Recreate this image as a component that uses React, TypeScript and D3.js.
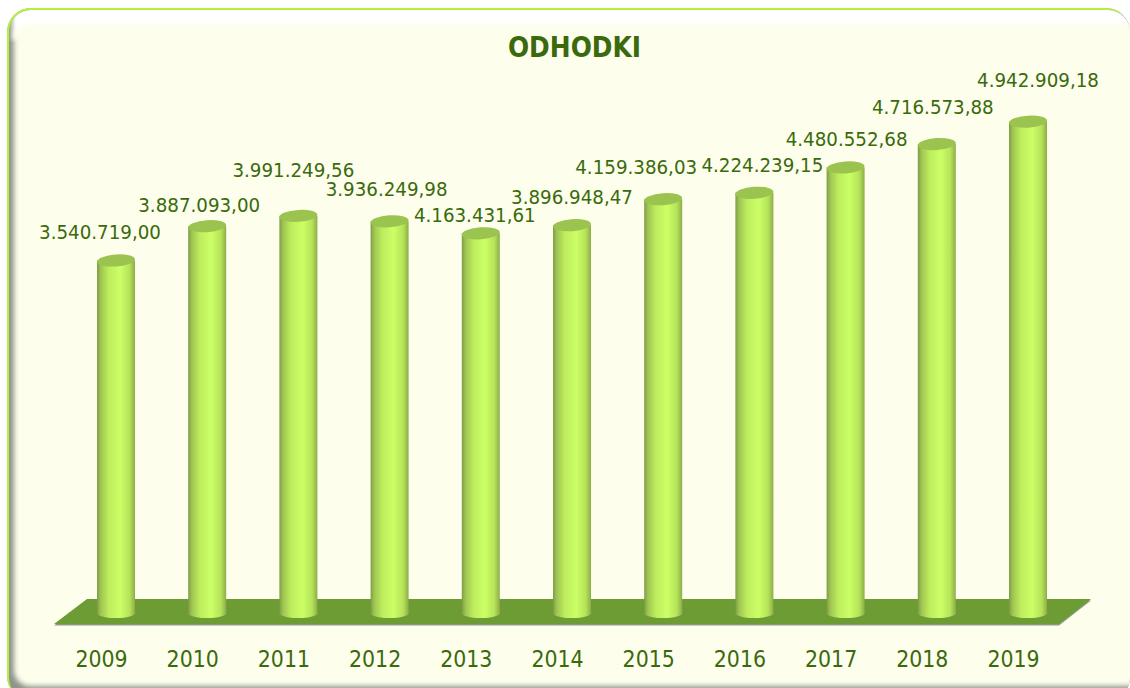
import { useEffect, useRef } from 'react'
import * as d3 from 'd3'

const years = ['2009', '2010', '2011', '2012', '2013', '2014', '2015', '2016', '2017', '2018', '2019']
// bar heights as drawn (2013 bar is shorter than its printed label in the source chart)
const barValues = [3540719, 3887093, 3991250, 3936250, 3815000, 3896948, 4159386, 4224239, 4480553, 4716574, 4942909]
const valueLabels = [
  '3.540.719,00', '3.887.093,00', '3.991.249,56', '3.936.249,98', '4.163.431,61', '3.896.948,47',
  '4.159.386,03', '4.224.239,15', '4.480.552,68', '4.716.573,88', '4.942.909,18',
]
// hand placed labels, relative to the top of each bar
const labelNudgeX = [-16, -8, -5, -3, -6, 0, -27, 8, 1, -4, 10]
const labelNudgeY = [-28, -21, -46, -32, -18, -28, -32, -28, -28, -37, -42]

const WIDTH = 1130
const HEIGHT = 688
const textColor = '#3a6a0c'
const font = '"DejaVu Sans Condensed", "DejaVu Sans", sans-serif'

function App() {
  const svgRef = useRef<SVGSVGElement>(null)

  useEffect(() => {
    const svg = d3.select(svgRef.current)
    svg.selectAll('*').remove()

    const defs = svg.append('defs')

    const body = defs.append('linearGradient').attr('id', 'cyl')
    body.append('stop').attr('offset', '0%').attr('stop-color', '#7f9c45')
    body.append('stop').attr('offset', '10%').attr('stop-color', '#9fc653')
    body.append('stop').attr('offset', '30%').attr('stop-color', '#bdec5d')
    body.append('stop').attr('offset', '60%').attr('stop-color', '#ccff66')
    body.append('stop').attr('offset', '85%').attr('stop-color', '#b5e359')
    body.append('stop').attr('offset', '100%').attr('stop-color', '#8aa948')

    const blur = defs.append('filter').attr('id', 'soft')
      .attr('x', '-5%').attr('y', '-5%').attr('width', '110%').attr('height', '110%')
    blur.append('feGaussianBlur').attr('stdDeviation', 2.5)

    defs.append('clipPath').attr('id', 'panel')
      .append('rect').attr('x', 9).attr('y', 10).attr('width', 1121).attr('height', 690).attr('rx', 22)
    defs.append('clipPath').attr('id', 'limeSide')
      .append('rect').attr('x', 0).attr('y', 0).attr('width', 1121).attr('height', HEIGHT)

    // panel frame, the lime rim stops short of the top right corner
    svg.append('rect').attr('width', WIDTH).attr('height', HEIGHT).attr('fill', '#ffffff')
    svg.append('rect')
      .attr('x', 7).attr('y', 8).attr('width', 1123).attr('height', 692).attr('rx', 24)
      .attr('fill', '#b3bcaa')
    svg.append('rect')
      .attr('x', 7).attr('y', 8).attr('width', 1123).attr('height', 692).attr('rx', 24)
      .attr('fill', '#b4f03c')
      .attr('clip-path', 'url(#limeSide)')
    const panel = svg.append('g').attr('clip-path', 'url(#panel)')
    panel.append('rect').attr('x', 9).attr('y', 10).attr('width', 1121).attr('height', 690).attr('fill', '#8f958a')
    panel.append('rect').attr('x', 12).attr('y', 0).attr('width', WIDTH).attr('height', 40).attr('fill', '#ffffff').attr('filter', 'url(#soft)')
    panel.append('rect')
      .attr('x', 14).attr('y', 24).attr('width', 1130).attr('height', 662).attr('rx', 16)
      .attr('fill', '#fdfeec').attr('filter', 'url(#soft)')

    const x = d3.scalePoint<string>().domain(years).range([116, 1028])
    const y = d3.scaleLinear().domain([0, 5000000]).range([611, 116])
    const barW = 38
    const ry = 6

    // title
    svg.append('text')
      .attr('x', 574.5).attr('y', 56.5)
      .attr('text-anchor', 'middle')
      .attr('font-family', font)
      .attr('font-weight', 700)
      .attr('font-size', 27.7)
      .attr('fill', textColor)
      .text('ODHODKI')

    // floor
    const floorLeft = x('2009')! - 62
    const floorRight = x('2019')! + 31
    const floorPath = d3.line()([
      [floorLeft, 624], [floorLeft + 33, 599], [floorRight + 32, 599], [floorRight, 624],
    ]) + 'Z'
    svg.append('path').attr('d', floorPath).attr('fill', '#8d9a82').attr('transform', 'translate(0,1.5)')
    svg.append('path').attr('d', floorPath).attr('fill', '#6d9c35')

    // cylinders
    years.forEach((yr, i) => {
      const cx = x(yr)!
      const top = y(barValues[i])
      const base = y(0)
      const left = cx - barW / 2
      const right = cx + barW / 2
      const g = svg.append('g')
      g.append('path')
        .attr('d', `M${left},${top} L${left},${base + 3} A${barW / 2},${ry - 1} 0 0 0 ${right},${base + 1} L${right},${top} Z`)
        .attr('fill', 'url(#cyl)')
      g.append('ellipse')
        .attr('cx', cx).attr('cy', top)
        .attr('rx', barW / 2).attr('ry', ry)
        .attr('transform', `rotate(-4 ${cx} ${top})`)
        .attr('fill', '#9bc34f')

      svg.append('text')
        .attr('x', cx + labelNudgeX[i])
        .attr('y', top + labelNudgeY[i] + 7)
        .attr('text-anchor', 'middle')
        .attr('font-family', font)
        .attr('font-size', 20.3)
        .attr('fill', textColor)
        .text(valueLabels[i])

      svg.append('text')
        .attr('x', cx - 14.5)
        .attr('y', 667)
        .attr('text-anchor', 'middle')
        .attr('font-family', font)
        .attr('font-size', 22.8)
        .attr('fill', textColor)
        .text(yr)
    })
  }, [])

  return <svg ref={svgRef} width={WIDTH} height={HEIGHT} style={{ position: 'absolute', left: 0, top: 0 }} />
}

export default App
